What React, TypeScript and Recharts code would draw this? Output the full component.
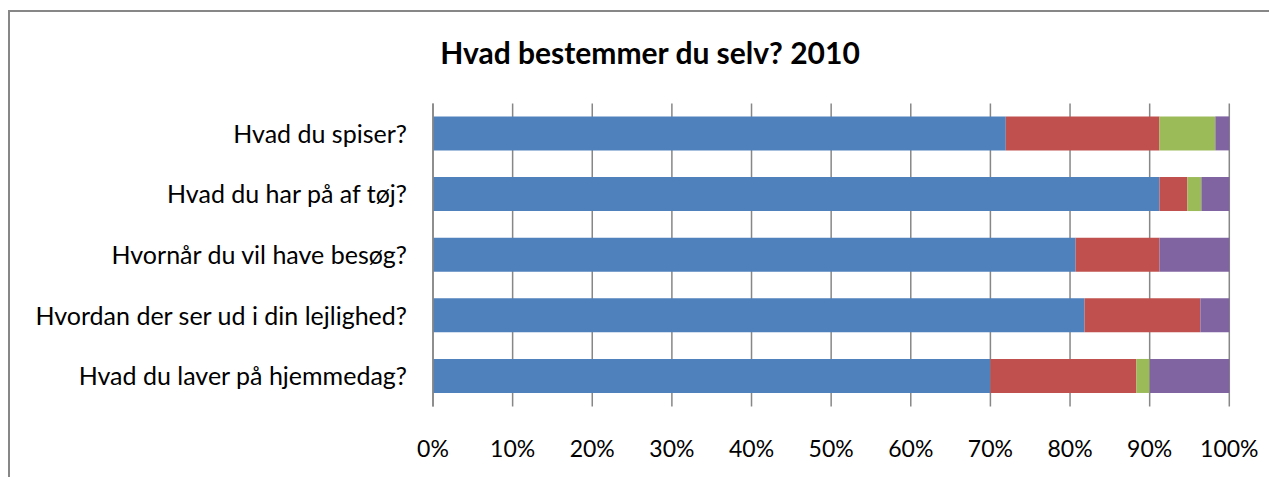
import React from "react";
import { BarChart, Bar, XAxis, YAxis, CartesianGrid } from "recharts";

const categories = [
  "Hvad du spiser?",
  "Hvad du har på af tøj?",
  "Hvornår du vil have besøg?",
  "Hvordan der ser ud i din lejlighed?",
  "Hvad du laver på hjemmedag?",
];
const seriesA = [41, 52, 46, 45, 42];
const seriesB = [11, 2, 6, 8, 11];
const seriesC = [4, 1, 0, 0, 1];
const seriesD = [1, 2, 5, 2, 6];
const xTicks = [0, 0.1, 0.2, 0.3, 0.4, 0.5, 0.6, 0.7, 0.8, 0.9, 1];

const data = categories.map((name, i) => ({
  name,
  a: seriesA[i],
  b: seriesB[i],
  c: seriesC[i],
  d: seriesD[i],
}));

const FONT = "Lato, 'Open Sans', sans-serif";

const XTick = (props: any) => {
  const { x, y, payload } = props;
  return (
    <text x={x} y={y + 50} textAnchor="middle" fontFamily={FONT} fontSize={23} fill="#000">
      {Math.round(payload.value * 100) + "%"}
    </text>
  );
};

const YTick = (props: any) => {
  const { x, y, payload } = props;
  return (
    <text x={x} y={y} dy={9} textAnchor="end" fontFamily={FONT} fontSize={25} fill="#000">
      {payload.value}
    </text>
  );
};

export default function App() {
  return (
    <div
      style={{
        marginTop: 2,
        width: 1267,
        height: 465,
        borderLeft: "2px solid #878787",
        borderTop: "2px solid #878787",
        position: "relative",
        background: "#fff",
      }}
    >
      <div
        style={{
          position: "absolute",
          left: 0,
          width: 1280,
          top: 22,
          textAlign: "center",
          fontFamily: FONT,
          fontWeight: "bold",
          fontSize: 30,
          color: "#000",
        }}
      >
        Hvad bestemmer du selv? 2010
      </div>
      <BarChart
        width={1267}
        height={465}
        data={data}
        layout="vertical"
        stackOffset="expand"
        barSize={34}
        margin={{ top: 91.4, right: 47.7, left: 0, bottom: 0 }}
      >
        <CartesianGrid horizontal={false} vertical={true} stroke="#878787" strokeWidth={1.5} />
        <XAxis
          type="number"
          domain={[0, 1]}
          ticks={xTicks}
          axisLine={false}
          tickLine={false}
          tickSize={0}
          tickMargin={0}
          height={70.4}
          tick={<XTick />}
          interval={0}
        />
        <YAxis
          type="category"
          dataKey="name"
          width={423}
          axisLine={{ stroke: "#878787", strokeWidth: 1.5 }}
          tickLine={false}
          tickSize={0}
          tickMargin={26}
          tick={<YTick />}
          interval={0}
        />
        <Bar dataKey="a" stackId="s" fill="#4F81BD" isAnimationActive={false} />
        <Bar dataKey="b" stackId="s" fill="#C0504D" isAnimationActive={false} />
        <Bar dataKey="c" stackId="s" fill="#9BBB59" isAnimationActive={false} />
        <Bar dataKey="d" stackId="s" fill="#8064A2" isAnimationActive={false} />
      </BarChart>
    </div>
  );
}
